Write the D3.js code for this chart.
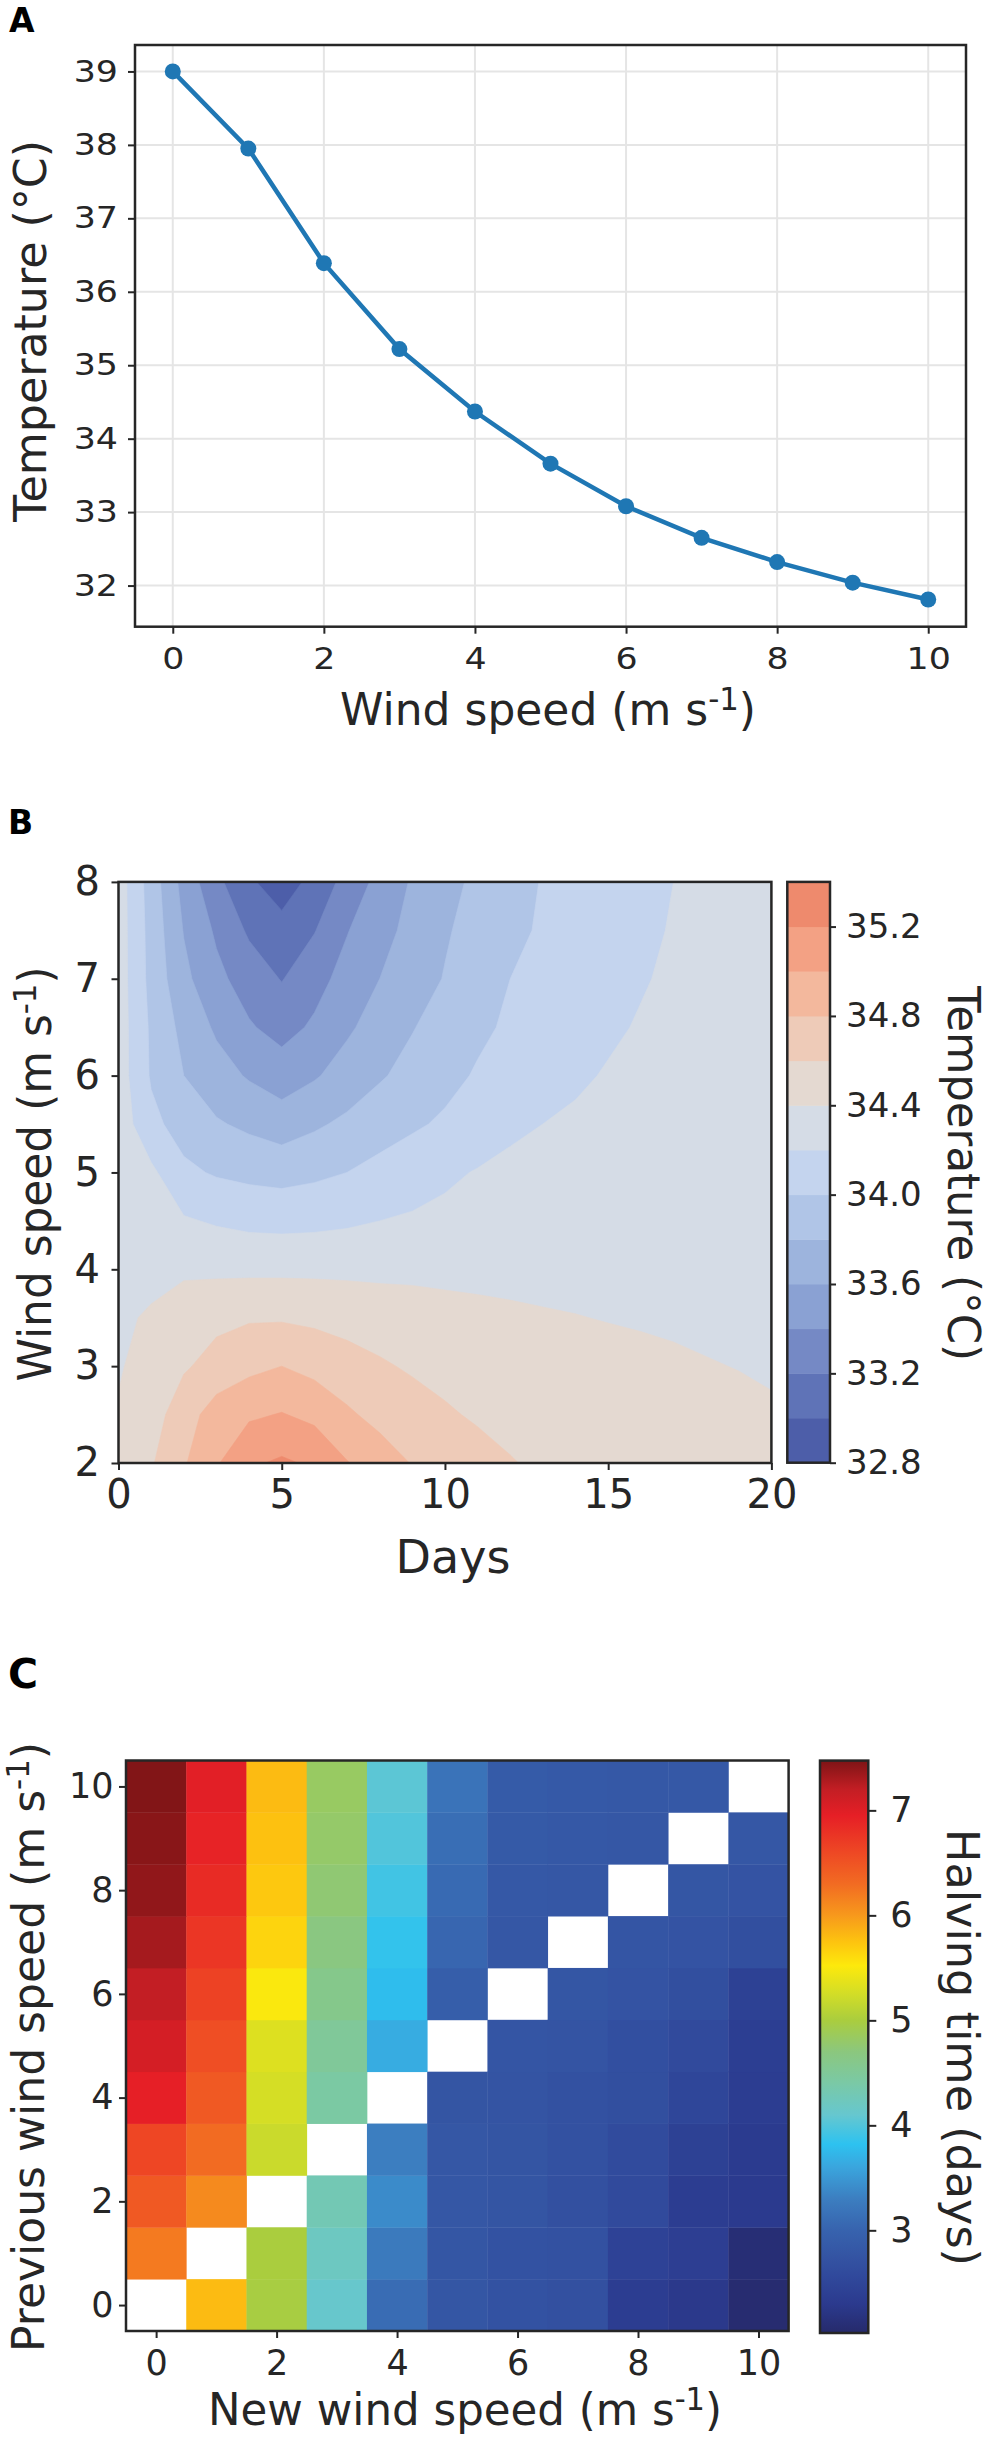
<!DOCTYPE html>
<html>
<head>
<meta charset="utf-8">
<script src="https://cdn.jsdelivr.net/npm/d3@7"></script>
<style>
  body { margin: 0; background: #fff; }
  svg { display: block; font-family: "DejaVu Sans", sans-serif; }
</style>
</head>
<body>
<div id="figure"></div>
<script>
// ---- Panel A: temperature vs wind speed
const windA = [0, 1, 2, 3, 4, 5, 6, 7, 8, 9, 10]
const tempA = [39.0, 37.95, 36.39, 35.22, 34.37, 33.66, 33.08, 32.65, 32.32, 32.04, 31.81]
const xTicksA = [0, 2, 4, 6, 8, 10]
const yTicksA = [32, 33, 34, 35, 36, 37, 38, 39]

// ---- Panel B: temperature over days and wind speed (rows = wind speed)
const daysB = [0, 1, 2, 3, 4, 5, 6, 7, 8, 9, 10, 11, 12, 13, 14, 15, 16, 17, 18, 19, 20]
const windB = [2, 2.5, 3, 3.5, 4, 4.5, 5, 5.5, 6, 6.5, 7, 7.5, 8]
const tempB = [
  [34.45, 34.58, 34.78, 34.98, 35.17, 35.23, 35.17, 35.01, 34.90, 34.79, 34.72, 34.66, 34.61, 34.57, 34.54, 34.52, 34.50, 34.49, 34.48, 34.47, 34.46],
  [34.42, 34.52, 34.70, 34.90, 34.97, 35.01, 34.95, 34.83, 34.74, 34.67, 34.62, 34.58, 34.55, 34.52, 34.50, 34.48, 34.47, 34.46, 34.45, 34.445, 34.42],
  [34.38, 34.49, 34.58, 34.66, 34.75, 34.80, 34.74, 34.68, 34.62, 34.58, 34.55, 34.53, 34.52, 34.51, 34.50, 34.48, 34.45, 34.43, 34.41, 34.395, 34.38],
  [34.37, 34.42, 34.53, 34.56, 34.58, 34.58, 34.56, 34.53, 34.52, 34.50, 34.48, 34.455, 34.44, 34.42, 34.407, 34.39, 34.38, 34.37, 34.36, 34.355, 34.35],
  [34.34, 34.35, 34.36, 34.36, 34.36, 34.36, 34.36, 34.36, 34.35, 34.35, 34.34, 34.34, 34.33, 34.33, 34.32, 34.32, 34.32, 34.31, 34.31, 34.31, 34.30],
  [34.34, 34.28, 34.22, 34.18, 34.15, 34.14, 34.15, 34.17, 34.20, 34.22, 34.24, 34.25, 34.26, 34.27, 34.28, 34.28, 34.29, 34.29, 34.29, 34.30, 34.30],
  [34.34, 34.24, 34.04, 33.98, 33.95, 33.93, 33.96, 34.00, 34.06, 34.12, 34.17, 34.21, 34.235, 34.25, 34.26, 34.27, 34.27, 34.28, 34.28, 34.28, 34.29],
  [34.32, 34.05, 33.92, 33.82, 33.76, 33.70, 33.77, 33.84, 33.91, 33.97, 34.03, 34.10, 34.17, 34.20, 34.22, 34.24, 34.25, 34.26, 34.27, 34.28, 34.28],
  [34.30, 33.98, 33.80, 33.68, 33.58, 33.50, 33.58, 33.68, 33.78, 33.86, 33.94, 34.02, 34.07, 34.13, 34.18, 34.21, 34.23, 34.25, 34.26, 34.27, 34.28],
  [34.30, 33.97, 33.74, 33.57, 33.42, 33.33, 33.43, 33.57, 33.68, 33.79, 33.88, 33.96, 34.03, 34.08, 34.13, 34.18, 34.21, 34.23, 34.25, 34.27, 34.28],
  [34.30, 33.94, 33.65, 33.45, 33.31, 33.19, 33.33, 33.47, 33.60, 33.71, 33.81, 33.90, 34.00, 34.05, 34.10, 34.14, 34.19, 34.22, 34.24, 34.26, 34.28],
  [34.30, 33.93, 33.59, 33.37, 33.17, 33.07, 33.19, 33.39, 33.53, 33.66, 33.78, 33.87, 33.96, 34.02, 34.07, 34.12, 34.17, 34.21, 34.23, 34.25, 34.27],
  [34.30, 33.91, 33.53, 33.25, 33.03, 32.90, 33.06, 33.27, 33.46, 33.62, 33.74, 33.84, 33.93, 34.01, 34.05, 34.10, 34.15, 34.20, 34.22, 34.25, 34.27],
]
const tempLevels = [32.8, 33.0, 33.2, 33.4, 33.6, 33.8, 34.0, 34.2, 34.4, 34.6, 34.8, 35.0, 35.2, 35.4]
const xTicksB = [0, 5, 10, 15, 20]
const yTicksB = [2, 3, 4, 5, 6, 7, 8]
const cbTicksB = [32.8, 33.2, 33.6, 34.0, 34.4, 34.8, 35.2]

// ---- Panel C: halving time (rows = previous wind speed, cols = new wind speed)
const newWind = [0, 1, 2, 3, 4, 5, 6, 7, 8, 9, 10]
const prevWind = [0, 1, 2, 3, 4, 5, 6, 7, 8, 9, 10]
const halving = [
  [null, 5.80, 4.98, 4.12, 3.10, 2.78, 2.72, 2.68, 2.35, 2.28, 2.06],
  [6.20, null, 5.00, 4.20, 3.25, 2.78, 2.72, 2.70, 2.45, 2.38, 2.10],
  [6.45, 6.10, null, 4.30, 3.40, 2.80, 2.76, 2.68, 2.58, 2.36, 2.30],
  [6.62, 6.30, 5.20, null, 3.30, 2.80, 2.76, 2.70, 2.60, 2.42, 2.32],
  [6.95, 6.45, 5.27, 4.42, null, 2.76, 2.75, 2.70, 2.66, 2.52, 2.36],
  [7.08, 6.55, 5.32, 4.50, 3.65, null, 2.77, 2.75, 2.67, 2.58, 2.37],
  [7.20, 6.65, 5.50, 4.60, 3.78, 2.92, null, 2.78, 2.74, 2.66, 2.42],
  [7.32, 6.75, 5.65, 4.68, 3.85, 3.03, 2.80, null, 2.77, 2.74, 2.66],
  [7.40, 6.85, 5.72, 4.75, 3.92, 3.08, 2.82, 2.80, null, 2.78, 2.74],
  [7.43, 6.92, 5.76, 4.80, 4.00, 3.12, 2.85, 2.82, 2.80, null, 2.80],
  [7.46, 6.98, 5.80, 4.83, 4.05, 3.18, 2.87, 2.84, 2.82, 2.82, null],
]
const xTicksC = [0, 2, 4, 6, 8, 10]
const yTicksC = [0, 2, 4, 6, 8, 10]
const cbTicksC = [3, 4, 5, 6, 7]

// ---- colours (sampled from the figure)
const ink = "#262626"
const lineBlue = "#1f77b4"
const bandColors = ["#4d5ea9", "#5f73b7", "#7589c5", "#8aa1d3", "#9db4dd", "#b0c5e7", "#c4d4ee",
  "#d5dce6", "#e4d9d1", "#eecbb8", "#f3b89d", "#f3a184", "#ee8a6d"]
const haloStops = [2.022, 2.3, 2.55, 2.75, 3.0, 3.3, 3.6, 3.82, 4.1, 4.4, 4.7, 5.0, 5.25, 5.52, 5.75, 6.0, 6.3, 6.6, 6.95, 7.2, 7.474]
const haloColors = ["#262a6b", "#2b3a8e", "#30489b", "#3454a3", "#3763ae", "#3c7ec0", "#3aa5dd", "#2dc2f0",
  "#66c7cf", "#7ac9a6", "#8bc77e", "#aacd3e", "#d2dd27", "#fde90c", "#fdc30f", "#f7991c", "#f26b22",
  "#ee4824", "#e61f26", "#c31e24", "#7e1416"]

const svg = d3.select("#figure")
  .append("svg")
    .attr("width", 989)
    .attr("height", 2441)

function styleAxis(g, size) {
  g.select(".domain").remove()
  g.selectAll(".tick line").attr("stroke", ink).attr("stroke-width", 2)
  g.selectAll(".tick text")
    .attr("fill", ink)
    .attr("font-size", size)
    .attr("font-family", "DejaVu Sans")
}

// text with an optional superscript part: [before, sup, after]
function addLabel(x, y, rotate, size, parts, length) {
  const t = svg.append("text")
    .attr("transform", `translate(${x},${y}) rotate(${rotate})`)
    .attr("text-anchor", "middle")
    .attr("font-size", size)
    .attr("fill", ink)
  t.append("tspan").text(parts[0])
  if (parts.length > 1) {
    t.append("tspan").attr("font-size", size * 0.7).attr("dy", -size * 0.33).text(parts[1])
    t.append("tspan").attr("dy", size * 0.33).text(parts[2])
  }
  if (length) t.attr("textLength", length).attr("lengthAdjust", "spacingAndGlyphs")
  return t
}

function panelLetter(x, y, size, s) {
  svg.append("text")
    .attr("x", x).attr("y", y)
    .attr("font-size", size).attr("font-weight", "bold")
    .attr("fill", "#000")
    .text(s)
}

function frame(x0, y0, x1, y1) {
  svg.append("rect")
    .attr("x", x0).attr("y", y0)
    .attr("width", x1 - x0).attr("height", y1 - y0)
    .attr("fill", "none").attr("stroke", ink).attr("stroke-width", 2.5)
}

const intFmt = d3.format("d")

// ================= Panel A
panelLetter(9, 32, 33, "A")

const xA = d3.scaleLinear().domain([-0.5, 10.5]).range([135, 966])
const yA = d3.scaleLinear().domain([31.44, 39.36]).range([626.7, 45])

const gridA = svg.append("g").attr("stroke", "#e5e5e5").attr("stroke-width", 2)
gridA.selectAll("line.gx")
  .data(xTicksA)
  .enter()
  .append("line")
  .attr("x1", d => xA(d)).attr("x2", d => xA(d))
  .attr("y1", yA.range()[0]).attr("y2", yA.range()[1])
gridA.selectAll("line.gy")
  .data(yTicksA)
  .enter()
  .append("line")
  .attr("y1", d => yA(d)).attr("y2", d => yA(d))
  .attr("x1", xA.range()[0]).attr("x2", xA.range()[1])

const stretchA = 1.16
const axisAx = svg.append("g")
  .attr("transform", `translate(0,${yA.range()[0]})`)
  .call(d3.axisBottom(xA).tickValues(xTicksA).tickFormat(intFmt).tickSize(7).tickPadding(14))
styleAxis(axisAx, 30)
axisAx.selectAll(".tick text").attr("transform", `scale(${stretchA},1)`)

const axisAy = svg.append("g")
  .attr("transform", `translate(${xA.range()[0]},0)`)
  .call(d3.axisLeft(yA).tickValues(yTicksA).tickFormat(intFmt).tickSize(7).tickPadding(10))
styleAxis(axisAy, 30)
axisAy.selectAll(".tick text")
  .attr("transform", `scale(${stretchA},1)`)
  .attr("x", -17 / stretchA)

svg.append("path")
  .datum(tempA)
  .attr("fill", "none")
  .attr("stroke", lineBlue)
  .attr("stroke-width", 4.5)
  .attr("d", d3.line().x((d, i) => xA(windA[i])).y(d => yA(d)))

svg.selectAll("circle.ptA")
  .data(tempA)
  .enter()
  .append("circle")
  .attr("cx", (d, i) => xA(windA[i]))
  .attr("cy", d => yA(d))
  .attr("r", 8)
  .attr("fill", lineBlue)

frame(135, 45, 966, 626.7)
addLabel(548, 725, 0, 45, ["Wind speed (m s", "-1", ")"], 416)
addLabel(46, 331, -90, 45, ["Temperature (°C)"], 382)

// ================= Panel B
panelLetter(8, 834, 33, "B")

const xB = d3.scaleLinear().domain([0, 20]).range([118.5, 771.4])
const yB = d3.scaleLinear().domain([2, 8]).range([1463, 881.9])

svg.append("clipPath").attr("id", "clipB")
  .append("rect")
  .attr("x", xB(0)).attr("y", yB(8))
  .attr("width", xB(20) - xB(0)).attr("height", yB(2) - yB(8))

const dayStep = daysB[1] - daysB[0]
const windStep = windB[1] - windB[0]
const gridProj = d3.geoTransform({
  point(gx, gy) {
    this.stream.point(xB(daysB[0] + (gx - 0.5) * dayStep), yB(windB[0] + (gy - 0.5) * windStep))
  }
})
const contourPath = d3.geoPath(gridProj)

const bands = d3.contours()
  .size([daysB.length, windB.length])
  .thresholds(tempLevels.slice(0, -1))(tempB.flat())

svg.append("g")
  .attr("clip-path", "url(#clipB)")
  .selectAll("path")
  .data(bands)
  .enter()
  .append("path")
  .attr("d", contourPath)
  .attr("fill", (d, i) => bandColors[i])
  .attr("stroke", (d, i) => bandColors[i])
  .attr("stroke-width", 0.6)

const axisBx = svg.append("g")
  .attr("transform", `translate(0,${yB.range()[0]})`)
  .call(d3.axisBottom(xB).tickValues(xTicksB).tickFormat(intFmt).tickSize(7).tickPadding(10))
styleAxis(axisBx, 40)

const axisBy = svg.append("g")
  .attr("transform", `translate(${xB.range()[0]},0)`)
  .call(d3.axisLeft(yB).tickValues(yTicksB).tickFormat(intFmt).tickSize(7).tickPadding(11.5))
styleAxis(axisBy, 40)

frame(118.5, 881.9, 771.4, 1463)

// colourbar B
const cbB = d3.scaleLinear().domain([32.8, 35.4]).range([1462.7, 881.9])
svg.selectAll("rect.bandB")
  .data(bandColors)
  .enter()
  .append("rect")
  .attr("x", 787.3)
  .attr("width", 830 - 787.3)
  .attr("y", (d, i) => cbB(tempLevels[i + 1]))
  .attr("height", (d, i) => cbB(tempLevels[i]) - cbB(tempLevels[i + 1]) + 0.5)
  .attr("fill", d => d)
frame(787.3, 881.9, 830, 1462.7)

const axisCbB = svg.append("g")
  .attr("transform", "translate(830,0)")
  .call(d3.axisRight(cbB).tickValues(cbTicksB).tickFormat(d3.format(".1f")).tickSize(6).tickPadding(10))
styleAxis(axisCbB, 34)

addLabel(453, 1573, 0, 46, ["Days"])
addLabel(51, 1174, -90, 46, ["Wind speed (m s", "-1", ")"], 415)
addLabel(948, 1173.5, 90, 44, ["Temperature (°C)"], 375)

// ================= Panel C
panelLetter(8, 1688, 41, "C")

const xC = d3.scaleLinear().domain([-0.5, 10.5]).range([126, 788.6])
const yC = d3.scaleLinear().domain([-0.5, 10.5]).range([2331, 1760.5])
const haloColor = d3.scaleLinear()
  .domain(haloStops)
  .range(haloColors)
  .interpolate(d3.interpolateRgb)
  .clamp(true)

const cells = []
halving.forEach((row, j) => row.forEach((v, i) => {
  if (v !== null) cells.push({ x: newWind[i], y: prevWind[j], v: v })
}))

svg.append("g")
  .selectAll("rect")
  .data(cells)
  .enter()
  .append("rect")
  .attr("x", d => xC(d.x - 0.5))
  .attr("y", d => yC(d.y + 0.5))
  .attr("width", d => xC(d.x + 0.5) - xC(d.x - 0.5) + 0.4)
  .attr("height", d => yC(d.y - 0.5) - yC(d.y + 0.5) + 0.4)
  .attr("fill", d => haloColor(d.v))

const axisCx = svg.append("g")
  .attr("transform", `translate(0,${yC.range()[0]})`)
  .call(d3.axisBottom(xC).tickValues(xTicksC).tickFormat(intFmt).tickSize(7).tickPadding(12))
styleAxis(axisCx, 35)

const axisCy = svg.append("g")
  .attr("transform", `translate(${xC.range()[0]},0)`)
  .call(d3.axisLeft(yC).tickValues(yTicksC).tickFormat(intFmt).tickSize(7).tickPadding(5.5))
styleAxis(axisCy, 35)

frame(126, 1760.5, 788.6, 2331)

// colourbar C
const cbC = d3.scaleLinear().domain([haloStops[0], haloStops[haloStops.length - 1]]).range([2333, 1760.6])
const grad = svg.append("defs").append("linearGradient")
  .attr("id", "haloGrad")
  .attr("x1", 0).attr("y1", 1).attr("x2", 0).attr("y2", 0)
grad.selectAll("stop")
  .data(haloStops)
  .enter()
  .append("stop")
  .attr("offset", d => (d - haloStops[0]) / (haloStops[haloStops.length - 1] - haloStops[0]))
  .attr("stop-color", (d, i) => haloColors[i])

svg.append("rect")
  .attr("x", 820).attr("y", 1760.6)
  .attr("width", 868.3 - 820).attr("height", 2333 - 1760.6)
  .attr("fill", "url(#haloGrad)")
frame(820, 1760.6, 868.3, 2333)

const axisCbC = svg.append("g")
  .attr("transform", "translate(868.3,0)")
  .call(d3.axisRight(cbC).tickValues(cbTicksC).tickFormat(intFmt).tickSize(8).tickPadding(14))
styleAxis(axisCbC, 35)

addLabel(465, 2425, 0, 45, ["New wind speed (m s", "-1", ")"], 514)
addLabel(44, 2047, -90, 45, ["Previous wind speed (m s", "-1", ")"], 610)
addLabel(947, 2047.5, 90, 45, ["Halving time (days)"], 437)
</script>
</body>
</html>
